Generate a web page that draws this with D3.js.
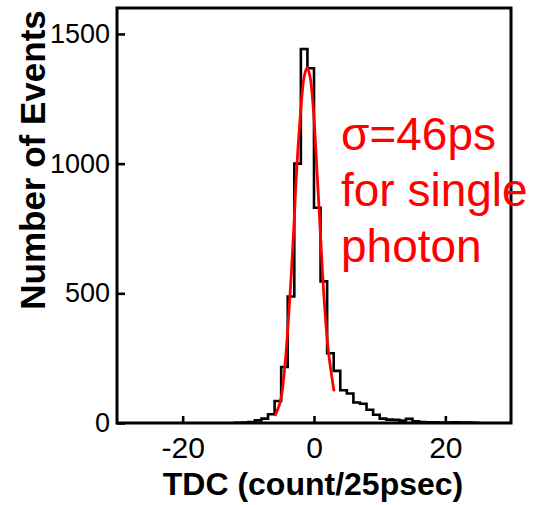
<!DOCTYPE html>
<html>
<head>
<meta charset="utf-8">
<script src="https://cdn.jsdelivr.net/npm/d3@7"></script>
<style>
  body { margin: 0; background: #fff; }
  text { font-family: "Liberation Sans", Arial, sans-serif; }
</style>
</head>
<body>
<svg id="chart"></svg>
<script>
    // histogram: left edge of each 1-count bin, and the number of events in it
    var binLefts = [-12, -11, -10, -9, -8, -7, -6, -5, -4, -3, -2, -1, 0, 1, 2, 3, 4, 5, 6,
                    7, 8, 9, 10, 11, 12, 13, 14, 15, 16, 17, 18, 19, 20, 21, 22, 23, 24]
    var counts = [1, 2, 4, 10, 17, 34, 85, 216, 488, 1000, 1442, 1368, 830, 546, 269, 201, 126, 114, 79,
                  74, 51, 32, 17, 13, 12, 9, 16, 7, 4, 3, 3, 2, 2, 3, 2, 2, 1]

    // gaussian fit, points
    var fitX = [-5.95, -5.1, -4.45, -3.7, -3.1, -2.64, -2.0, -1.5, -1.05, -0.6, -0.1, 0.45, 1.0, 1.55, 2.2, 3.05]
    var fitY = [27, 85, 215, 474, 740, 975, 1210, 1335, 1370, 1335, 1210, 975, 720, 474, 275, 122]

    var xTicks = [-20, 0, 20]
    var yTicks = [0, 500, 1000, 1500]
    var noteLines = ["\u03c3=46ps", "for single", "photon"]

    var width = 549;
    var height = 505;
    var margin = { top: 8, bottom: 82, left: 117, right: 38 }
    var bodyWidth = width - margin.left - margin.right;
    var bodyHeight = height - margin.top - margin.bottom;

    var svg = d3.select("#chart").attr("width", width).attr("height", height)

    var xScale = d3.scaleLinear().domain([-30, 30]).range([0, bodyWidth])
    var yScale = d3.scaleLinear().domain([0, 1600]).range([bodyHeight, 0])

    var body = svg.append("g")
        .attr("transform", `translate(${margin.left},${margin.top})`)

    // step outline of the histogram
    var lastEdge = binLefts[binLefts.length - 1] + 1
    var stepPts = [[binLefts[0], 0]]
        .concat(binLefts.map((b, i) => [b, counts[i]]))
        .concat([[lastEdge, 0]])

    var stepLine = d3.line()
        .x(d => xScale(d[0]))
        .y(d => yScale(d[1]))
        .curve(d3.curveStepAfter)

    body.append("path")
        .attr("d", stepLine(stepPts))
        .attr("fill", "none")
        .attr("stroke", "#000")
        .attr("stroke-width", 2.6)

    // red fit
    var fitLine = d3.line()
        .x(d => xScale(d[0]))
        .y(d => yScale(d[1]))
        .curve(d3.curveCatmullRom)

    body.append("path")
        .attr("d", fitLine(fitX.map((x, i) => [x, fitY[i]])))
        .attr("fill", "none")
        .attr("stroke", "#ff0000")
        .attr("stroke-width", 2.8)

    // axes, ticks pointing inward, plain labels (hyphen minus, no thousands comma)
    var xAxis = d3.axisBottom(xScale).tickValues(xTicks).tickFormat(d => String(d))
        .tickSizeInner(-7).tickSizeOuter(0).tickPadding(14)
    var yAxis = d3.axisLeft(yScale).tickValues(yTicks).tickFormat(d => String(d))
        .tickSizeInner(-8).tickSizeOuter(0).tickPadding(7)

    var gx = body.append("g")
        .attr("transform", `translate(0,${bodyHeight})`)
        .call(xAxis)
    gx.selectAll("text").attr("font-size", 30).attr("fill", "#000").style("font-family", "'Liberation Sans', Arial, sans-serif")

    var gy = body.append("g").call(yAxis)
    gy.selectAll("text").attr("font-size", 27).attr("fill", "#000").style("font-family", "'Liberation Sans', Arial, sans-serif")

    svg.selectAll(".domain").remove()
    svg.selectAll(".tick line").attr("stroke", "#000").attr("stroke-width", 2.6)

    // frame
    body.append("rect")
        .attr("x", 0).attr("y", 0)
        .attr("width", bodyWidth).attr("height", bodyHeight)
        .attr("fill", "none")
        .attr("stroke", "#000")
        .attr("stroke-width", 3)

    // axis titles
    svg.append("text")
        .attr("x", margin.left + xScale(0) - 1)
        .attr("y", 495)
        .attr("text-anchor", "middle")
        .attr("font-size", 32)
        .attr("font-weight", "bold")
        .text("TDC (count/25psec)")

    svg.append("text")
        .attr("transform", "translate(45,160) rotate(-90)")
        .attr("text-anchor", "middle")
        .attr("font-size", 35)
        .attr("font-weight", "bold")
        .text("Number of Events")

    // annotation
    svg.selectAll(".note").data(noteLines).enter().append("text")
        .attr("class", "note")
        .attr("x", 341)
        .attr("y", (d, i) => 150 + i * 56)
        .attr("font-size", 46)
        .attr("fill", "#ff0000")
        .text(d => d)
</script>
</body>
</html>
